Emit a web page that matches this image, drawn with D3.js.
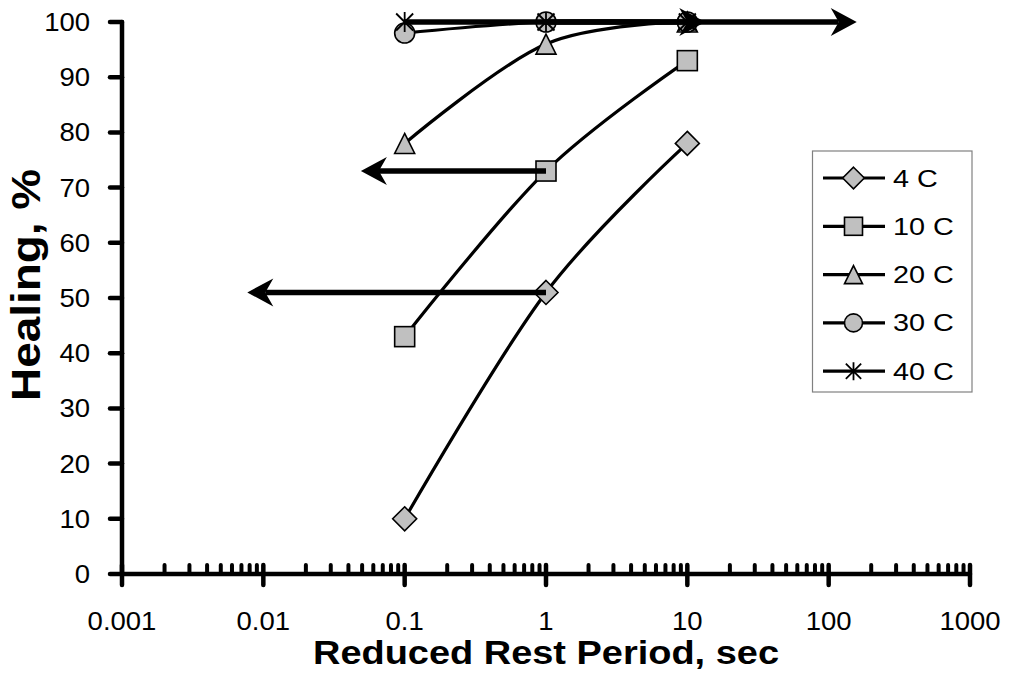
<!DOCTYPE html>
<html>
<head>
<meta charset="utf-8">
<script src="https://cdn.jsdelivr.net/npm/d3@7"></script>
<style>
  html, body { margin: 0; padding: 0; background: #fff; }
  svg { display: block; font-family: Arial, "Liberation Sans", sans-serif; }
</style>
</head>
<body>
<svg id="chart" width="1010" height="677"></svg>
<script>
// ---- data ----
const restPeriods = [0.1, 1, 10];
const seriesNames = ["4 C", "10 C", "20 C", "30 C", "40 C"];
const healing4C  = [10, 51, 78];
const healing10C = [43, 73, 93];
const healing20C = [78, 96, 100];
const healing30C = [98, 100, 100];
const healing40C = [100, 100, 100];
const markerTypes = ["diamond", "square", "triangle", "circle", "star"];
const xTickValues = [0.001, 0.01, 0.1, 1, 10, 100, 1000];
const xTickLabels = ["0.001", "0.01", "0.1", "1", "10", "100", "1000"];
const yTickValues = [0, 10, 20, 30, 40, 50, 60, 70, 80, 90, 100];
// arrows: from (x, y) to (x, y)
const arrowFromX = [1, 1, 0.1, 1];
const arrowFromY = [51, 73, 100, 100];
const arrowToX   = [0.0077, 0.049, 158, 13.4];
const arrowToY   = [51, 73, 100, 100];

const allSeries = [healing4C, healing10C, healing20C, healing30C, healing40C];

const svg = d3.select("#chart");
const x = d3.scaleLog().domain([0.001, 1000]).range([122, 970]);
const y = d3.scaleLinear().domain([0, 100]).range([574, 22]);

const TX = 1.1; // horizontal text stretch of the original

// ---- axes ----
const axisG = svg.append("g").attr("stroke", "#000").attr("stroke-linecap", "round");
const minor = [];
for (let e = -3; e < 3; e++) for (let k = 2; k <= 9; k++) minor.push(k * Math.pow(10, e));
axisG.selectAll(".minor").data(minor).join("line")
  .attr("x1", d => x(d)).attr("x2", d => x(d))
  .attr("y1", y(0) - 9).attr("y2", y(0))
  .attr("stroke-width", 4);
axisG.selectAll(".major").data(xTickValues).join("line")
  .attr("x1", d => x(d)).attr("x2", d => x(d))
  .attr("y1", y(0) - 9).attr("y2", y(0) + 11)
  .attr("stroke-width", 4.5);
axisG.selectAll(".ytick").data(yTickValues).join("line")
  .attr("x1", x(0.001) - 12).attr("x2", x(0.001))
  .attr("y1", d => y(d)).attr("y2", d => y(d))
  .attr("stroke-width", 4.5);
axisG.append("line").attr("x1", x(0.001)).attr("x2", x(1000))
  .attr("y1", y(0)).attr("y2", y(0)).attr("stroke-width", 4.5);
axisG.append("line").attr("x1", x(0.001)).attr("x2", x(0.001))
  .attr("y1", y(0)).attr("y2", y(100)).attr("stroke-width", 4.5);

// tick labels
svg.append("g").selectAll("text").data(xTickValues).join("text")
  .attr("transform", d => `translate(${x(d)},630) scale(${TX},1)`)
  .attr("text-anchor", "middle").attr("font-size", 25)
  .text((d, i) => xTickLabels[i]);
svg.append("g").selectAll("text").data(yTickValues).join("text")
  .attr("transform", d => `translate(90,${y(d) + 9}) scale(${TX},1)`)
  .attr("text-anchor", "end").attr("font-size", 25)
  .text(d => d);

// axis titles
svg.append("text")
  .attr("x", 546).attr("y", 664)
  .attr("text-anchor", "middle").attr("font-size", 33).attr("font-weight", "bold")
  .attr("textLength", 466).attr("lengthAdjust", "spacingAndGlyphs")
  .text("Reduced Rest Period, sec");
svg.append("text")
  .attr("transform", "translate(40,285) rotate(-90)")
  .attr("text-anchor", "middle").attr("font-size", 40).attr("font-weight", "bold")
  .attr("textLength", 232).attr("lengthAdjust", "spacingAndGlyphs")
  .text("Healing, %");

// ---- markers ----
function drawMarker(g, type, cx, cy, s) {
  const h = s / 2;
  const fill = "#c0c0c0", st = "#000", sw = 1.6;
  if (type === "diamond") {
    const r = h * 1.2;
    g.append("path").attr("d", `M${cx},${cy - r}L${cx + r},${cy}L${cx},${cy + r}L${cx - r},${cy}Z`)
      .attr("fill", fill).attr("stroke", st).attr("stroke-width", sw);
  } else if (type === "square") {
    g.append("rect").attr("x", cx - h).attr("y", cy - h).attr("width", s).attr("height", s)
      .attr("fill", fill).attr("stroke", st).attr("stroke-width", sw);
  } else if (type === "triangle") {
    g.append("path").attr("d", `M${cx},${cy - h}L${cx + h},${cy + h}L${cx - h},${cy + h}Z`)
      .attr("fill", fill).attr("stroke", st).attr("stroke-width", sw);
  } else if (type === "circle") {
    g.append("circle").attr("cx", cx).attr("cy", cy).attr("r", h)
      .attr("fill", fill).attr("stroke", st).attr("stroke-width", sw);
  } else if (type === "star") {
    const d = h * 0.85;
    g.append("path")
      .attr("d", `M${cx},${cy - h}V${cy + h}M${cx - d},${cy - d}L${cx + d},${cy + d}M${cx + d},${cy - d}L${cx - d},${cy + d}`)
      .attr("fill", "none").attr("stroke", st).attr("stroke-width", 1.8);
  }
}

// ---- series ----
const line = d3.line().x(d => x(d[0])).y(d => y(d[1])).curve(d3.curveCardinal.tension(0));
const seriesG = svg.append("g");
allSeries.forEach((vals, si) => {
  const pts = restPeriods.map((r, i) => [r, vals[i]]);
  seriesG.append("path").attr("d", line(pts))
    .attr("fill", "none").attr("stroke", "#000").attr("stroke-width", 3.2);
});
allSeries.forEach((vals, si) => {
  restPeriods.forEach((r, i) => drawMarker(seriesG, markerTypes[si], x(r), y(vals[i]), 20));
});

// ---- arrows ----
const arrowG = svg.append("g");
arrowFromX.forEach((fx, i) => {
  const x1 = x(fx), y1 = y(arrowFromY[i]);
  const x2 = x(arrowToX[i]), y2 = y(arrowToY[i]);
  const ang = Math.atan2(y2 - y1, x2 - x1);
  const L = 26, W = 14, N = 18;
  const c = Math.cos(ang), s = Math.sin(ang);
  const pt = (a, b) => [x2 + a * c - b * s, y2 + a * s + b * c];
  const nb = pt(-N, 0);
  arrowG.append("line").attr("x1", x1).attr("y1", y1).attr("x2", nb[0]).attr("y2", nb[1])
    .attr("stroke", "#000").attr("stroke-width", 5.5);
  const p1 = pt(0, 0), p2 = pt(-L, -W), p3 = pt(-L, W);
  arrowG.append("path")
    .attr("d", `M${p1}L${p2}L${nb}L${p3}Z`).attr("fill", "#000");
});

// ---- legend ----
const lg = svg.append("g");
lg.append("rect").attr("x", 812.5).attr("y", 151).attr("width", 159.5).attr("height", 241)
  .attr("fill", "#fff").attr("stroke", "#808080").attr("stroke-width", 1.2);
seriesNames.forEach((name, i) => {
  const cy = 178 + i * 48.3;
  lg.append("line").attr("x1", 823).attr("x2", 885).attr("y1", cy).attr("y2", cy)
    .attr("stroke", "#000").attr("stroke-width", 3.2);
  drawMarker(lg, markerTypes[i], 853.5, cy, 18);
  lg.append("text").attr("transform", `translate(893,${cy + 8.5}) scale(1.2,1)`)
    .attr("font-size", 24).text(name);
});
</script>
</body>
</html>
